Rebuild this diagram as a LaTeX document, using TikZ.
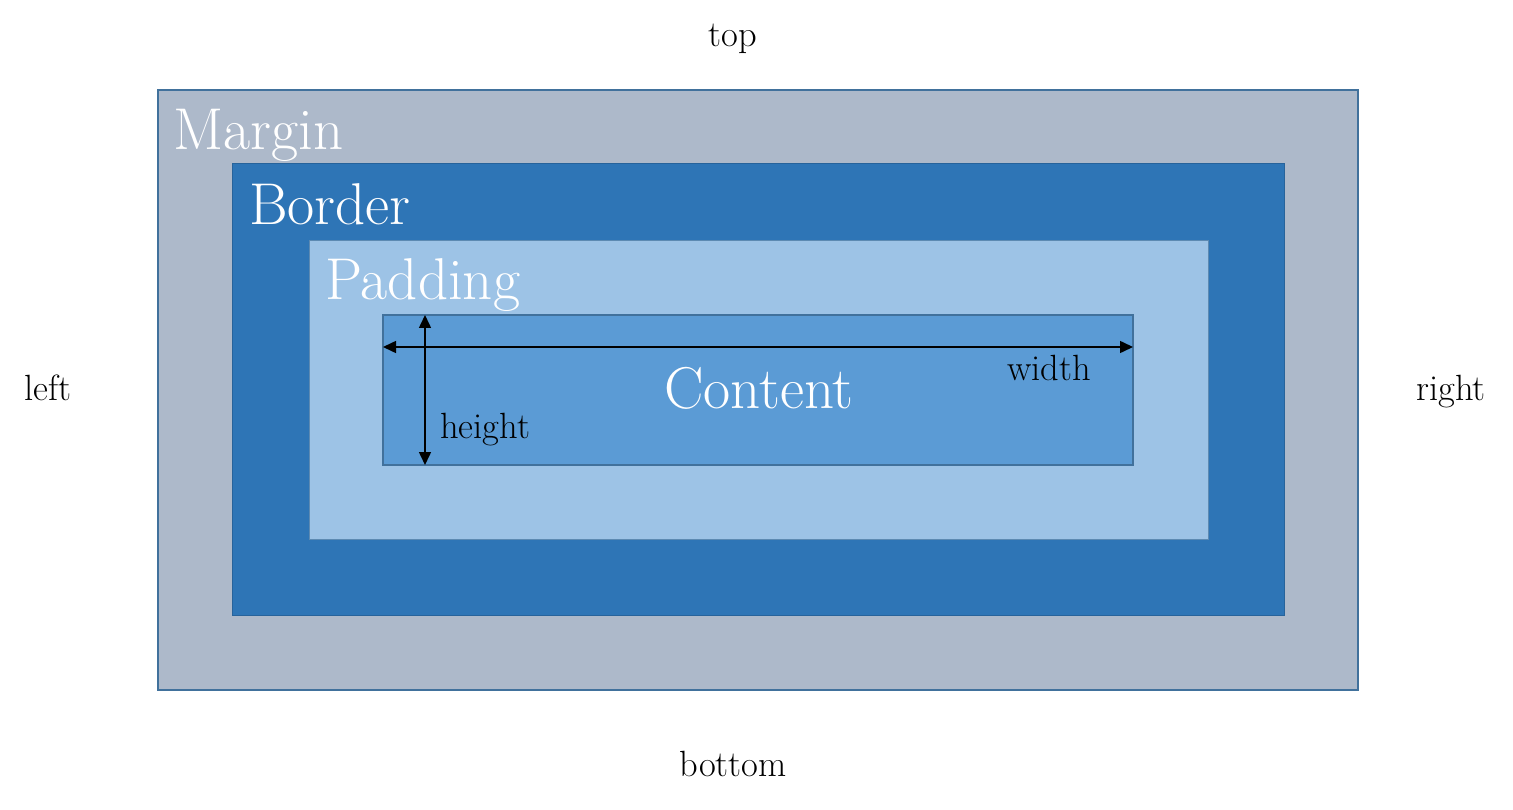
\documentclass[tikz,border=0pt]{standalone}
\usetikzlibrary{arrows.meta}
\definecolor{marginc}{HTML}{ADB9CA}
\definecolor{borderc}{HTML}{2E75B6}
\definecolor{paddingc}{HTML}{9DC3E6}
\definecolor{contentc}{HTML}{5B9BD5}
\definecolor{edgec}{HTML}{41719C}
\tikzset{
  layer/.style={draw=edgec, line width=1.5pt, inner sep=0pt, outer sep=0pt, anchor=north west},
  biglabel/.style={text=white, font=\fontsize{59}{64}\selectfont, inner sep=0pt, anchor=base west},
  smalllabel/.style={text=black, font=\fontsize{36.5}{42}\selectfont, inner sep=0pt},
  dim/.style={line width=1.5pt, {Triangle[length=13pt,width=12pt]}-{Triangle[length=13pt,width=12pt]}}
}
\begin{document}
\begin{tikzpicture}[x=1pt,y=-1pt]
\useasboundingbox (0,0) rectangle (1513,810);
\node[layer, fill=marginc, minimum width=1200pt, minimum height=600pt] (margin) at (158,90) {};
\node[layer, fill=borderc, draw=borderc!85!black, line width=1pt, minimum width=1052pt, minimum height=451pt] (border) at (232,164) {};
\node[layer, fill=paddingc, draw=edgec!70!paddingc, line width=1pt, minimum width=899pt, minimum height=298pt] (padding) at (309,241) {};
\node[layer, fill=contentc, minimum width=750pt, minimum height=150pt] (content) at (383,315) {};

\node[biglabel] (lmargin) at (173,150) {Margin};
\node[biglabel] (lborder) at (249,225) {Border};
\node[biglabel] (lpadding) at (325,300) {Padding};
\node[biglabel, anchor=base] (lcontent) at (759,408) {Content};

\coordinate (wl) at (383,347);
\coordinate (wr) at (1133,347);
\coordinate (ht) at (425,315);
\coordinate (hb) at (425,465);
\draw[dim] (wl) -- (wr);
\draw[dim] (ht) -- (hb);

\node[smalllabel, anchor=base west] (lwidth) at (1007,381) {width};
\node[smalllabel, anchor=base west] (lheight) at (440,438) {height};

\node[smalllabel, anchor=base] (ltop) at (733,47) {top};
\node[smalllabel, anchor=base] (lbottom) at (733,776) {bottom};
\node[smalllabel, anchor=base] (lleft) at (48,400) {left};
\node[smalllabel, anchor=base] (lright) at (1451,400) {right};
\end{tikzpicture}
\end{document}
